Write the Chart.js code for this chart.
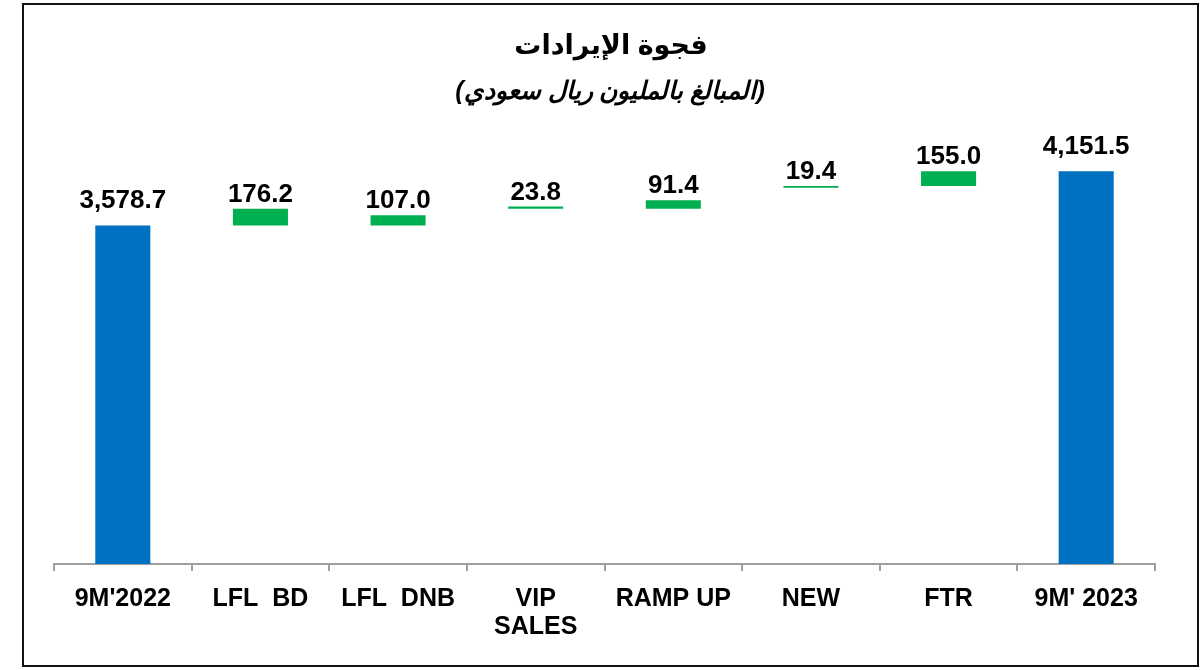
<!DOCTYPE html>
<html>
<head>
<meta charset="utf-8">
<script src="https://cdn.jsdelivr.net/npm/chart.js@4/dist/chart.umd.min.js"></script>
<style>
  body { margin: 0; background: #fff; }
  #wrap { width: 1201px; height: 670px; }
</style>
</head>
<body>
<div id="wrap"><canvas id="chart" width="1201" height="670"></canvas></div>
<script>
// data (millions SAR)
const categories = ["9M'2022", 'LFL  BD', 'LFL  DNB', ['VIP', 'SALES'], 'RAMP UP', 'NEW', 'FTR', "9M' 2023"];
const values = [3578.7, 176.2, 107.0, 23.8, 91.4, 19.4, 155.0, 4151.5];
// where each floating bar starts, as drawn in the picture
const bases = [0, 3578.7, 3578.7, 3754.9, 3754.9, 3977.1, 3996.5, 0];
const titleText = 'فجوة الإيرادات';
const subtitleText = '(المبالغ بالمليون ريال سعودي)';

const bars = values.map((v, i) => [bases[i], bases[i] + v]);
const colors = values.map((v, i) => (i === 0 || i === values.length - 1) ? '#0070C0' : '#00B050');

const fmt = v => v.toLocaleString('en-US', { minimumFractionDigits: 1, maximumFractionDigits: 1 });

const framePlugin = {
    id: 'frame',
    beforeDraw(chart) {
        const ctx = chart.ctx;
        ctx.save();
        ctx.fillStyle = '#fff';
        ctx.fillRect(0, 0, chart.width, chart.height);
        ctx.strokeStyle = '#111';
        ctx.lineWidth = 2;
        ctx.strokeRect(23, 4, 1175, 662);
        ctx.restore();
    },
    afterDraw(chart) {
        const ctx = chart.ctx;
        ctx.save();
        ctx.direction = 'rtl';
        ctx.textAlign = 'center';
        ctx.textBaseline = 'middle';
        ctx.fillStyle = '#000';
        ctx.font = 'bold 27px Arial, "DejaVu Sans", sans-serif';
        ctx.fillText(titleText, 611, 47);
        ctx.font = 'italic bold 25px Arial, "DejaVu Sans", sans-serif';
        ctx.fillText(subtitleText, 610, 92);
        ctx.restore();

        // value labels above each bar
        const meta = chart.getDatasetMeta(0);
        ctx.save();
        ctx.textAlign = 'center';
        ctx.textBaseline = 'alphabetic';
        ctx.fillStyle = '#000';
        ctx.font = 'bold 26px Arial, "Liberation Sans", sans-serif';
        meta.data.forEach((bar, i) => {
            const top = Math.min(bar.y, bar.base);
            const gap = (i === 0 || i === meta.data.length - 1) ? 17 : 7;
            ctx.fillText(fmt(values[i]), bar.x, top - gap);
        });
        ctx.restore();
    }
};

new Chart(document.getElementById('chart'), {
    type: 'bar',
    data: {
        labels: categories,
        datasets: [{
            data: bars,
            backgroundColor: colors,
            borderWidth: 0,
            borderSkipped: false,
            categoryPercentage: 1,
            barPercentage: 0.4
        }]
    },
    options: {
        responsive: false,
        animation: false,
        layout: { padding: { left: 54, right: 46, top: 91, bottom: 15 } },
        plugins: {
            legend: { display: false },
            tooltip: { enabled: false }
        },
        scales: {
            y: { display: false, min: 0, max: 5000 },
            x: {
                grid: {
                    display: true,
                    drawOnChartArea: false,
                    drawTicks: true,
                    tickLength: 7,
                    lineWidth: 2,
                    color: '#a0a0a0',
                    offset: true
                },
                border: { display: true, color: '#a0a0a0', width: 2 },
                ticks: {
                    color: '#000',
                    padding: 14,
                    maxRotation: 0,
                    autoSkip: false,
                    font: { family: 'Arial, "Liberation Sans", sans-serif', size: 25, weight: 'bold', lineHeight: 1.12 }
                }
            }
        }
    },
    plugins: [framePlugin]
});
</script>
</body>
</html>
